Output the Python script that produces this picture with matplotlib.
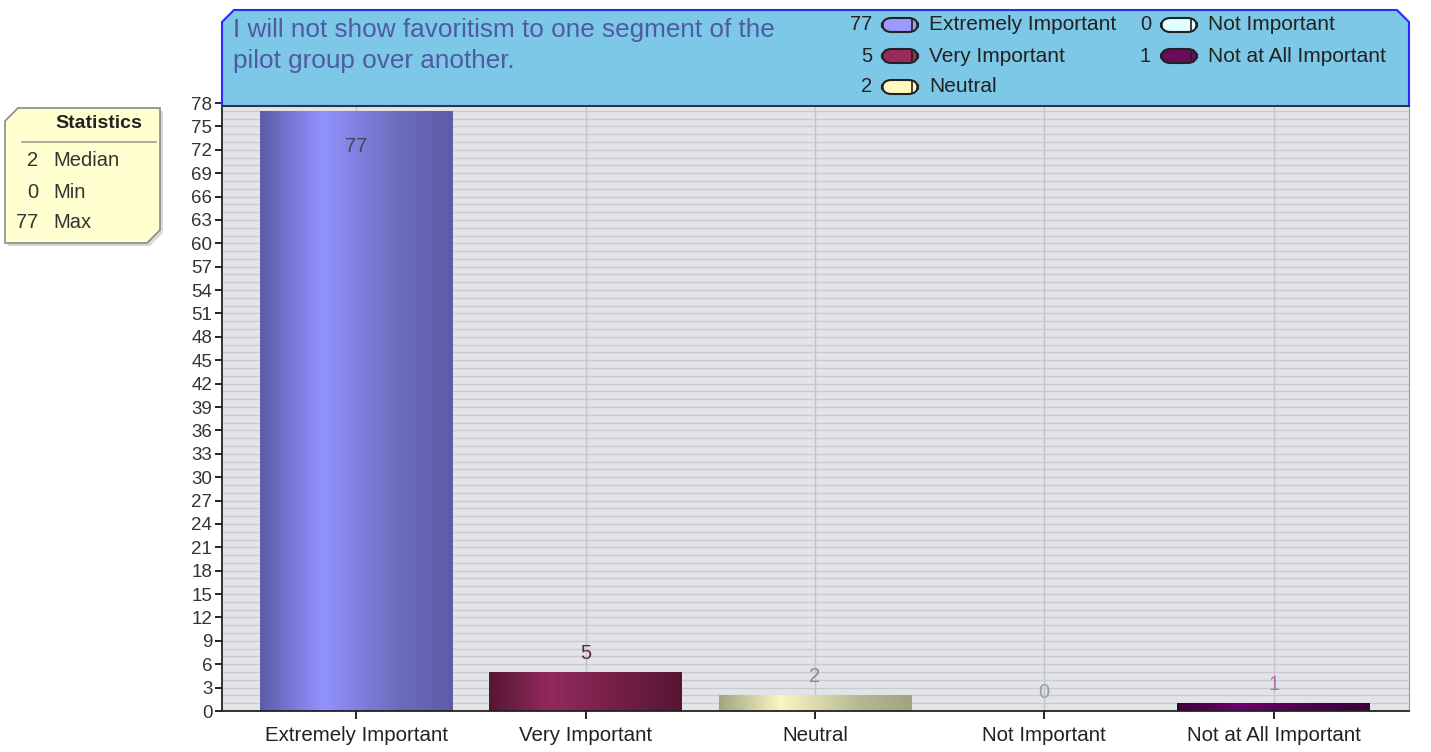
import matplotlib.pyplot as plt
import numpy as np
from matplotlib.colors import LinearSegmentedColormap
from matplotlib.patches import Polygon, FancyBboxPatch
from matplotlib.lines import Line2D

plt.rcParams['font.family'] = ['Liberation Sans', 'DejaVu Sans']

# data
categories = ["Extremely Important", "Very Important", "Neutral",
              "Not Important", "Not at All Important"]
counts = [77, 5, 2, 0, 1]
title = "I will not show favoritism to one segment of the\npilot group over another."

# colours: (dark edge, highlight, right side)
bar_shades = [("#5c5ca8", "#9292ff", "#6c6cbc"),
              ("#561633", "#932a5c", "#6e1e44"),
              ("#a3a382", "#f8f8c4", "#b8b894"),
              ("#8fb8b8", "#e0ffff", "#8fb8b8"),
              ("#3c003c", "#6e006e", "#4a004a")]
legend_fill = ["#9a9aff", "#9a2a5a", "#fff8c0", "#e0ffff", "#6a0a5a"]
label_colors = ["#44445e", "#5a2a44", "#8e8e70", "#90a4a4", "#b070b0"]

W, H = 1431, 752
fig = plt.figure(figsize=(W / 100, H / 100), dpi=100)
fig.patch.set_facecolor("white")


def fx(x):
    return x / W


def fy(y):
    return 1 - y / H


# plot area
ax = fig.add_axes([fx(222), fy(711), fx(1409 - 222), (711 - 103) / H])
ax.set_facecolor("#e3e4e8")
x = np.arange(len(categories))

# grid
for yv in range(1, 78):
    ax.axhline(yv, color="#c9cacf", lw=0.9, zorder=0)
for xv in x:
    ax.axvline(xv, color="#c4c4c8", lw=1.0, zorder=0.5)

bars = ax.bar(x, counts, width=0.84, color="none", zorder=2)
grad = np.linspace(0, 1, 256).reshape(1, -1)
for bar, shades in zip(bars, bar_shades):
    if bar.get_height() <= 0:
        continue
    cmap = LinearSegmentedColormap.from_list(
        "g", [(0, shades[0]), (0.32, shades[1]), (0.72, shades[2]), (1, shades[0])])
    x0 = bar.get_x()
    im = ax.imshow(grad, cmap=cmap, aspect="auto", zorder=2,
                   extent=(x0, x0 + bar.get_width(), 0, bar.get_height()))
    im.set_clip_path(bar)
ax.set_xlim(-0.585, len(categories) - 1 + 0.59)
ax.set_ylim(0, 78)

# value labels
for xi, v, c in zip(x, counts, label_colors):
    if v > 70:
        ax.text(xi, v - 4.6, str(v), ha="center", va="center", fontsize=14.5, color=c, zorder=3)
    else:
        ax.text(xi, v + 2.4, str(v), ha="center", va="center", fontsize=14.5, color=c, zorder=3)

ax.set_yticks(np.arange(0, 79, 3))
ax.set_xticks(x)
ax.set_xticklabels(categories, fontsize=14.8, color="#222222")
ax.tick_params(axis="y", labelsize=13.5, labelcolor="#333333", length=5, width=1.2, pad=2)
ax.tick_params(axis="x", length=6, width=1.2, pad=5)
ax.spines["top"].set_visible(False)
ax.spines["right"].set_color("#9a9a9a")
ax.spines["left"].set_linewidth(1.3)
ax.spines["bottom"].set_linewidth(1.3)
ax.spines["left"].set_color("#222222")
ax.spines["bottom"].set_color("#222222")

# header box
hdr = [(222, 106), (222, 22), (234, 10), (1397, 10), (1409, 22), (1409, 106)]
fig.add_artist(Polygon([(fx(a), fy(b)) for a, b in hdr], closed=True,
                       facecolor="#7dc7e7", edgecolor="#2a2aff", lw=1.5,
                       transform=fig.transFigure))
fig.add_artist(Line2D([fx(222), fx(1409)], [fy(106), fy(106)], color="#333333",
                      lw=1.3, transform=fig.transFigure))
fig.text(fx(233), fy(18), title, ha="left", va="top", fontsize=18.8,
         color="#4f5aa2", linespacing=1.38)

# legend
leg_pos = [(872, 25), (872, 56), (872, 87), (1151, 25), (1151, 56)]
for (lx, ly), name, v, fc in zip(leg_pos, categories, counts, legend_fill):
    fig.text(fx(lx), fy(ly), str(v), ha="right", va="center", fontsize=14.5, color="#222222")
    box = FancyBboxPatch((fx(lx + 10), fy(ly + 7)), fx(36), 14 / H,
                         boxstyle="round,pad=0,rounding_size=0.0065",
                         facecolor=fc, edgecolor="#222222", lw=1.5,
                         transform=fig.transFigure, mutation_aspect=W / H)
    fig.add_artist(box)
    fig.add_artist(Line2D([fx(lx + 40), fx(lx + 40)], [fy(ly + 6), fy(ly - 6)],
                          color="#222222", lw=1.2, transform=fig.transFigure))
    fig.text(fx(lx + 57), fy(ly), name, ha="left", va="center", fontsize=15, color="#222222")

# statistics box
stats = [("Median", int(np.median(counts))), ("Min", min(counts)), ("Max", max(counts))]
sb = [(5, 121), (18, 108), (160, 108), (160, 230), (147, 243), (5, 243)]
fig.add_artist(Polygon([(fx(a) + 0.002, fy(b) - 0.004) for a, b in sb], closed=True,
                       facecolor="#d8d8d8", edgecolor="none", transform=fig.transFigure))
fig.add_artist(Polygon([(fx(a), fy(b)) for a, b in sb], closed=True,
                       facecolor="#ffffcf", edgecolor="#8a8a8a", lw=1.2,
                       transform=fig.transFigure))
fig.text(fx(99), fy(123), "Statistics", ha="center", va="center", fontsize=14,
         fontweight="bold", color="#222222")
fig.add_artist(Line2D([fx(22), fx(156)], [fy(142), fy(142)], color="#a0a090",
                      lw=1.2, transform=fig.transFigure))
for i, (name, v) in enumerate(stats):
    yy = 161 + i * 31
    fig.text(fx(38), fy(yy), str(v), ha="right", va="center", fontsize=14.5, color="#333333")
    fig.text(fx(53), fy(yy), name, ha="left", va="center", fontsize=14.5, color="#333333")

fig.savefig("out.png", dpi=100)
